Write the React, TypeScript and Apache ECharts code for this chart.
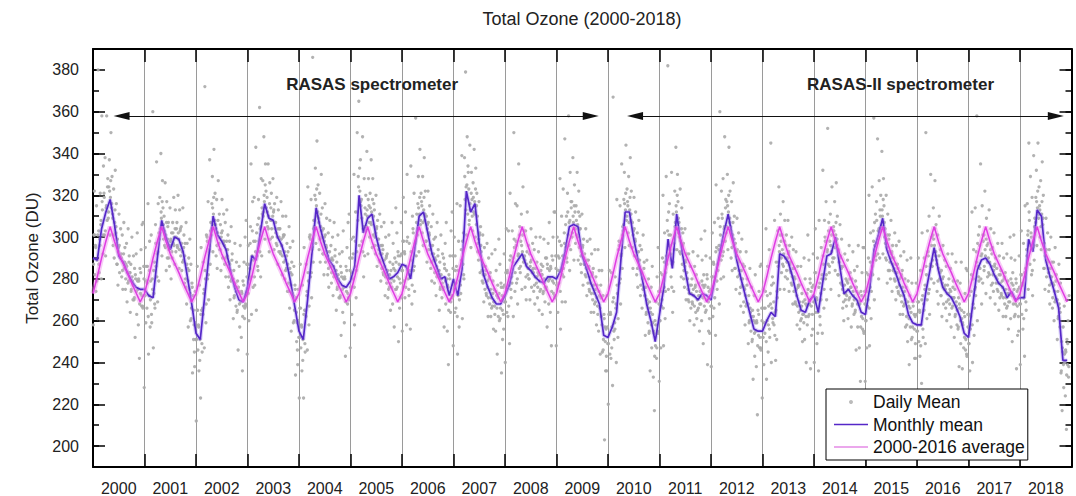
import React, { useEffect, useRef } from "react";
import * as echarts from "echarts";

const years = [2000, 2001, 2002, 2003, 2004, 2005, 2006, 2007, 2008, 2009, 2010, 2011, 2012, 2013, 2014, 2015, 2016, 2017, 2018];

// Monthly mean total ozone (DU), Jan..Dec for each year
const monthlyMean = [
  [290, 289, 304, 312, 318, 306, 291, 288, 283, 279, 276, 275],
  [275, 272, 271, 290, 308, 300, 294, 300, 299, 293, 281, 268],
  [254, 251, 271, 291, 310, 301, 298, 294, 284, 276, 270, 269],
  [276, 291, 289, 302, 316, 309, 308, 300, 296, 289, 279, 267],
  [255, 251, 270, 292, 314, 304, 296, 289, 286, 280, 277, 276],
  [279, 286, 320, 302, 309, 311, 300, 292, 286, 280, 281, 283],
  [287, 286, 280, 295, 310, 312, 302, 292, 286, 280, 281, 272],
  [280, 272, 285, 322, 312, 316, 297, 282, 276, 271, 268, 268],
  [272, 277, 286, 289, 292, 286, 284, 281, 279, 278, 281, 281],
  [280, 284, 293, 305, 306, 305, 291, 285, 278, 273, 268, 253],
  [252, 257, 264, 289, 312, 312, 299, 289, 280, 268, 260, 250],
  [263, 276, 299, 285, 311, 297, 284, 273, 272, 270, 273, 272],
  [270, 281, 292, 302, 311, 300, 289, 280, 272, 264, 256, 255],
  [255, 260, 264, 262, 292, 291, 288, 281, 272, 265, 264, 270],
  [272, 264, 278, 291, 292, 300, 286, 273, 275, 272, 270, 264],
  [263, 276, 294, 301, 309, 294, 288, 283, 277, 272, 263, 259],
  [258, 258, 273, 284, 295, 284, 276, 273, 271, 267, 262, 254],
  [252, 268, 284, 289, 290, 287, 282, 278, 276, 271, 274, 270],
  [271, 271, 299, 293, 313, 310, 289, 281, 274, 266, 241, 241],
];

// 2000-2016 average, Jan..Dec
const average20002016 = [273, 281, 290, 298, 305, 298, 292, 287.5, 283, 278, 273.5, 269];

// Daily values, spread of each month (8 readings per month, Jan..Dec)
const daily2000 = [294,274,310,287,258,301,322,282, 296,274,315,289,261,380,303,283, 299,321,306,280,358,313,292,334, 321,301,338,291,314,358,308,328, 309,324,337,301,319,350,314,329, 311,296,323,290,307,332,302,316, 287,299,277,295,311,283,291,304, 292,281,301,275,288,307,285,295, 275,287,297,269,283,304,279,291, 283,264,287,275,300,279,270,291, 270,285,252,280,292,263,302,275, 258,279,242,285,273,294,267,306];
const daily2001 = [267,307,286,228,272,295,259,279, 266,286,316,244,272,298,257,279, 301,259,280,360,247,273,288,266, 306,286,336,292,269,316,279,299, 319,304,340,309,291,327,314,299, 310,296,326,301,284,317,290,305, 307,294,286,314,298,280,302,290, 307,297,319,300,287,313,293,304, 307,295,320,299,285,313,303,291, 305,284,293,314,289,301,278,297, 280,307,268,297,285,257,290,275, 299,260,287,266,278,235,272,251];
const daily2002 = [258,238,274,251,212,265,286,246, 258,236,277,251,223,295,265,245, 266,288,273,247,372,280,259,301, 300,280,317,270,293,337,287,307, 301,316,329,293,311,342,306,321, 306,291,318,285,302,327,297,311, 294,306,284,302,318,290,298,311, 298,287,307,281,294,313,291,301, 276,288,298,270,284,305,280,292, 280,261,284,272,297,276,267,288, 264,279,246,274,286,257,296,269, 252,273,236,279,267,288,261,300];
const daily2003 = [268,308,287,244,273,296,260,280, 285,305,335,263,291,317,276,298, 319,277,298,343,265,291,306,284, 318,298,362,304,281,328,291,311, 327,312,348,317,299,335,322,307, 319,305,335,310,293,326,299,314, 321,308,300,328,312,294,316,304, 307,297,319,300,287,313,293,304, 304,292,317,296,282,310,300,288, 301,280,289,310,285,297,274,293, 278,305,266,295,283,255,288,273, 298,259,286,265,277,234,271,250];
const daily2004 = [259,239,275,252,223,266,287,247, 258,236,277,251,223,295,265,245, 265,287,272,246,324,279,258,300, 301,281,318,271,294,386,288,308, 305,320,333,297,315,346,310,325, 309,294,321,288,305,330,300,314, 292,304,282,300,316,288,296,309, 293,282,302,276,289,308,286,296, 278,290,300,272,286,307,282,294, 284,265,288,276,301,280,271,292, 271,286,253,281,293,264,303,276, 259,280,243,286,274,295,268,307];
const daily2005 = [271,311,290,247,276,299,263,283, 280,300,330,258,286,312,271,293, 350,308,329,365,296,322,337,315, 318,298,348,304,281,328,291,311, 320,305,341,310,292,328,315,300, 321,307,337,312,295,328,301,316, 313,300,292,320,304,286,308,296, 299,289,311,292,279,305,285,296, 294,282,307,286,272,300,290,278, 292,271,280,301,276,288,265,284, 280,307,268,297,285,257,290,275, 314,275,302,281,293,250,287,266];
const daily2006 = [291,271,307,284,255,298,319,279, 293,271,312,286,258,330,300,280, 275,297,282,256,334,289,268,310, 304,284,321,274,297,357,291,311, 301,316,329,293,311,342,306,321, 317,302,329,296,313,338,308,322, 298,310,288,306,322,294,302,315, 296,285,305,279,292,311,289,299, 278,290,300,272,286,307,282,294, 284,265,288,276,301,280,271,292, 275,290,257,285,297,268,307,280, 255,276,239,282,270,291,264,303];
const daily2007 = [272,312,291,248,277,300,264,284, 266,286,316,244,272,298,257,279, 315,273,294,339,261,287,302,280, 338,318,379,324,301,348,311,331, 323,308,344,313,295,331,318,303, 326,312,342,317,300,333,306,321, 310,297,289,317,301,283,305,293, 289,279,301,282,269,295,275,286, 284,272,297,276,262,290,280,268, 283,262,271,292,267,279,256,275, 267,294,255,284,272,244,277,262, 299,260,287,266,278,235,272,251];
const daily2008 = [276,256,292,269,240,283,304,264, 284,262,303,277,249,321,291,271, 281,303,288,262,350,295,274,316, 298,278,315,268,291,335,285,305, 283,298,311,275,293,324,288,303, 291,276,303,270,287,312,282,296, 280,292,270,288,304,276,284,297, 285,274,294,268,281,300,278,288, 271,283,293,265,279,300,275,287, 282,263,286,274,299,278,269,290, 275,290,257,285,297,268,307,280, 264,285,248,291,279,300,273,312];
const daily2009 = [272,312,291,248,277,300,264,284, 278,298,328,256,284,310,269,291, 323,281,302,347,269,295,310,288, 321,301,358,307,284,331,294,314, 317,302,338,307,289,325,312,297, 315,301,331,306,289,322,295,310, 304,291,283,311,295,277,299,287, 292,282,304,285,272,298,278,289, 286,274,299,278,264,292,282,270, 285,264,273,294,269,281,258,277, 267,294,255,284,272,244,277,262, 284,245,272,251,263,203,257,236];
const daily2010 = [256,236,272,249,220,263,284,244, 264,242,283,257,229,367,271,251, 259,281,266,240,318,273,252,294, 298,278,315,268,291,335,285,305, 303,318,331,295,313,344,308,323, 317,302,329,296,313,338,308,322, 295,307,285,303,319,291,299,312, 293,282,302,276,289,308,286,296, 272,284,294,266,280,301,276,288, 272,253,276,264,289,268,259,280, 254,269,236,264,276,247,286,259, 233,254,217,260,248,269,242,281];
const daily2011 = [255,295,274,231,260,283,247,267, 270,290,320,248,276,302,261,283, 329,287,308,382,275,301,316,294, 301,281,331,287,264,311,274,294, 322,307,343,312,294,330,317,302, 307,293,323,298,281,314,287,302, 297,284,276,304,288,270,292,280, 280,270,292,273,260,286,266,277, 280,268,293,272,258,286,276,264, 282,261,270,291,266,278,255,274, 272,299,260,289,277,249,282,267, 303,264,291,270,282,239,276,255];
const daily2012 = [274,254,290,267,238,281,302,262, 288,266,307,281,253,325,295,275, 287,309,294,268,360,301,280,322, 311,291,328,281,304,348,298,318, 302,317,330,294,312,343,307,322, 305,290,317,284,301,326,296,310, 285,297,275,293,309,281,289,302, 284,273,293,267,280,299,277,287, 264,276,286,258,272,293,268,280, 268,249,272,260,285,264,255,276, 250,265,232,260,272,243,282,255, 238,259,215,265,253,274,247,286];
const daily2013 = [247,287,266,223,252,275,239,259, 254,274,304,232,260,286,245,267, 294,252,273,345,240,266,281,259, 278,258,308,264,241,288,251,271, 303,288,324,293,275,311,298,283, 301,287,317,292,275,308,281,296, 301,288,280,308,292,274,296,284, 288,278,300,281,268,294,274,285, 280,268,293,272,258,286,276,264, 277,256,265,286,261,273,250,269, 263,290,251,280,268,240,273,258, 301,262,289,268,280,237,274,253];
const daily2014 = [276,256,292,269,240,283,304,264, 271,249,290,264,236,308,278,258, 273,295,280,254,332,287,266,308, 300,280,317,270,293,352,287,307, 283,298,311,275,293,324,288,303, 305,290,317,284,301,326,296,310, 282,294,272,290,306,278,286,299, 277,266,286,260,273,292,270,280, 267,279,289,261,275,296,271,283, 276,257,280,268,293,272,263,284, 264,279,246,274,286,257,296,269, 247,268,231,274,262,283,256,295];
const daily2015 = [255,295,274,231,260,283,247,267, 270,290,320,248,276,302,261,283, 324,282,303,357,270,296,311,289, 317,297,347,303,280,327,290,310, 320,305,341,310,292,328,315,300, 304,290,320,295,278,311,284,299, 301,288,280,308,292,274,296,284, 290,280,302,283,270,296,276,287, 285,273,298,277,263,291,281,269, 284,263,272,293,268,280,257,276, 262,289,250,279,267,239,272,257, 290,251,278,257,269,218,263,242];
const daily2016 = [262,242,278,255,226,269,290,250, 265,243,284,258,230,302,272,252, 268,290,275,249,350,282,261,303, 293,273,310,263,286,330,280,300, 286,301,314,278,296,327,291,306, 289,274,301,268,285,310,280,294, 272,284,262,280,296,268,276,289, 277,266,286,260,273,292,270,280, 263,275,285,257,271,292,267,279, 271,252,275,263,288,267,258,279, 256,271,238,266,278,249,288,261, 237,258,221,264,252,273,246,285];
const daily2017 = [244,284,263,220,249,272,236,256, 262,282,312,240,268,294,253,275, 314,272,293,358,260,286,301,279, 305,285,335,291,268,315,278,298, 301,286,322,291,273,309,296,281, 297,283,313,288,271,304,277,292, 295,282,274,302,286,268,290,278, 285,275,297,278,265,291,271,282, 284,272,297,276,262,290,280,268, 283,262,271,292,267,279,256,275, 273,300,261,290,278,250,283,268, 301,262,289,268,280,237,274,253];
const daily2018 = [275,255,291,268,239,282,303,263, 278,256,297,271,243,315,285,265, 294,316,301,275,345,308,287,329, 302,282,319,272,295,339,289,309, 304,319,332,296,314,345,309,324, 315,300,327,294,311,336,306,320, 285,297,275,293,309,281,289,302, 285,274,294,268,281,300,278,288, 266,278,288,260,274,295,270,282, 270,251,274,262,287,266,257,278, 235,250,217,245,257,228,267,240, 224,245,208,251,239,260,233,272];

// Daily values, dense core of each month (4 more readings per month, Jan..Dec)
const core2000 = [281,295,287,301, 295,279,301,287, 296,308,317,301, 319,303,315,324, 312,322,327,316, 309,301,313,305, 287,293,296,290, 290,284,292,288, 280,286,278,288, 283,274,281,277, 271,282,274,279, 280,268,283,272];
const core2001 = [266,280,272,286, 278,262,284,270, 263,275,284,268, 297,281,293,302, 302,312,317,306, 303,295,307,299, 290,296,299,293, 302,296,304,300, 296,302,294,304, 297,288,295,291, 276,287,279,284, 273,261,276,265];
const core2002 = [245,259,251,265, 257,241,263,249, 263,275,284,268, 298,282,294,303, 304,314,319,308, 304,296,308,300, 294,300,303,297, 296,290,298,294, 281,287,279,289, 280,271,278,274, 265,276,268,273, 274,262,277,266];
const core2003 = [267,281,273,287, 297,281,303,289, 281,293,302,286, 309,293,305,314, 310,320,325,314, 312,304,316,308, 304,310,313,307, 302,296,304,300, 293,299,291,301, 293,284,291,287, 274,285,277,282, 272,260,275,264];
const core2004 = [246,260,252,266, 257,241,263,249, 262,274,283,267, 299,283,295,304, 308,318,323,312, 307,299,311,303, 292,298,301,295, 291,285,293,289, 283,289,281,291, 284,275,282,278, 272,283,275,280, 281,269,284,273];
const core2005 = [270,284,276,290, 292,276,298,284, 312,324,333,317, 309,293,305,314, 303,313,318,307, 314,306,318,310, 296,302,305,299, 294,288,296,292, 283,289,281,291, 284,275,282,278, 276,287,279,284, 288,276,291,280];
const core2006 = [278,292,284,298, 292,276,298,284, 272,284,293,277, 302,286,298,307, 304,314,319,308, 315,307,319,311, 298,304,307,301, 294,288,296,292, 283,289,281,291, 284,275,282,278, 276,287,279,284, 277,265,280,269];
const core2007 = [271,285,277,291, 278,262,284,270, 277,289,298,282, 329,313,325,334, 306,316,321,310, 319,311,323,315, 293,299,302,296, 284,278,286,282, 273,279,271,281, 275,266,273,269, 263,274,266,271, 273,261,276,265];
const core2008 = [263,277,269,283, 283,267,289,275, 278,290,299,283, 296,280,292,301, 286,296,301,290, 289,281,293,285, 280,286,289,283, 283,277,285,281, 276,282,274,284, 282,273,280,276, 276,287,279,284, 286,274,289,278];
const core2009 = [271,285,277,291, 290,274,296,282, 285,297,306,290, 312,296,308,317, 300,310,315,304, 308,300,312,304, 287,293,296,290, 287,281,289,285, 275,281,273,283, 277,268,275,271, 263,274,266,271, 258,246,261,250];
const core2010 = [243,257,249,263, 263,247,269,255, 256,268,277,261, 296,280,292,301, 306,316,321,310, 315,307,319,311, 295,301,304,298, 291,285,293,289, 277,283,275,285, 272,263,270,266, 255,266,258,263, 255,243,258,247];
const core2011 = [254,268,260,274, 282,266,288,274, 291,303,312,296, 292,276,288,297, 305,315,320,309, 300,292,304,296, 280,286,289,283, 275,269,277,273, 269,275,267,277, 274,265,272,268, 268,279,271,276, 277,265,280,269];
const core2012 = [261,275,267,281, 287,271,293,279, 284,296,305,289, 309,293,305,314, 305,315,320,309, 303,295,307,299, 285,291,294,288, 282,276,284,280, 269,275,267,277, 268,259,266,262, 251,262,254,259, 260,248,263,252];
const core2013 = [246,260,252,266, 266,250,272,258, 256,268,277,261, 269,253,265,274, 286,296,301,290, 294,286,298,290, 284,290,293,287, 283,277,285,281, 269,275,267,277, 269,260,267,263, 259,270,262,267, 275,263,278,267];
const core2014 = [263,277,269,283, 270,254,276,262, 270,282,291,275, 298,282,294,303, 286,296,301,290, 303,295,307,299, 282,288,291,285, 275,269,277,273, 272,278,270,280, 276,267,274,270, 265,276,268,273, 269,257,272,261];
const core2015 = [254,268,260,274, 282,266,288,274, 286,298,307,291, 308,292,304,313, 303,313,318,307, 297,289,301,293, 284,290,293,287, 285,279,287,283, 274,280,272,282, 276,267,274,270, 258,269,261,266, 264,252,267,256];
const core2016 = [249,263,255,269, 264,248,270,256, 265,277,286,270, 291,275,287,296, 289,299,304,293, 287,279,291,283, 272,278,281,275, 275,269,277,273, 268,274,266,276, 271,262,269,265, 257,268,260,265, 259,247,262,251];
const core2017 = [243,257,249,263, 274,258,280,266, 276,288,297,281, 296,280,292,301, 284,294,299,288, 290,282,294,286, 278,284,287,281, 280,274,282,278, 273,279,271,281, 275,266,273,269, 269,280,272,277, 275,263,278,267];
const core2018 = [262,276,268,282, 277,261,283,269, 291,303,312,296, 300,284,296,305, 307,317,322,311, 313,305,317,309, 285,291,294,288, 283,277,285,281, 271,277,269,279, 270,261,268,264, 236,247,239,244, 246,234,249,238];

const dailyByYear = [daily2000, daily2001, daily2002, daily2003, daily2004, daily2005, daily2006, daily2007, daily2008, daily2009, daily2010, daily2011, daily2012, daily2013, daily2014, daily2015, daily2016, daily2017, daily2018];
const coreByYear = [core2000, core2001, core2002, core2003, core2004, core2005, core2006, core2007, core2008, core2009, core2010, core2011, core2012, core2013, core2014, core2015, core2016, core2017, core2018];

const yTickLabels = [200, 220, 240, 260, 280, 300, 320, 340, 360, 380];
const yMinorTicks = [190, 200, 210, 220, 230, 240, 250, 260, 270, 280, 290, 300, 310, 320, 330, 340, 350, 360, 370, 380, 390];

// Instrument periods (arrow tips in decimal years) and their labels
const instrumentNames = ["RASAS spectrometer", "RASAS-II spectrometer"];
const instrumentFrom = [2000.40, 2010.37];
const instrumentTo = [2009.82, 2018.85];
const instrumentLabelX = [2005.42, 2015.68];
const arrowLevel = 358;
const labelLevel = 373;

const FONT = "'Liberation Sans', Arial, Helvetica, sans-serif";
const BLUE = "#5527c8";
const MAGENTA = "#e03ce3";

export default function App() {
  const ref = useRef<HTMLDivElement>(null);

  useEffect(() => {
    document.body.style.margin = "0";
    if (!ref.current) return;
    const chart = echarts.init(ref.current, null, { renderer: "svg" });

    const dailyData: number[][] = [];
    years.forEach((y, yi) => {
      const main = dailyByYear[yi];
      const core = coreByYear[yi];
      main.forEach((v, k) => {
        const m = Math.floor(k / 8);
        const i = k % 8;
        dailyData.push([y + (m - 0.5 + (i + 0.5) / 8) / 12, v]);
      });
      core.forEach((v, k) => {
        const m = Math.floor(k / 4);
        const j = k % 4;
        dailyData.push([y + (m - 0.5 + (j + 0.5) / 4) / 12, v]);
      });
    });
    const monthlyData: number[][] = [];
    const avgData: number[][] = [];
    years.forEach((y, yi) => {
      monthlyMean[yi].forEach((v, m) => monthlyData.push([y + m / 12, v]));
      average20002016.forEach((v, m) => avgData.push([y + m / 12, v]));
    });

    const halfArrow = 0.155;
    const arrowLines = instrumentNames.map((_, i) => [
      { coord: [instrumentFrom[i] + halfArrow, arrowLevel] },
      { coord: [instrumentTo[i] - halfArrow, arrowLevel] },
    ]);
    const labelPoints = instrumentNames.map((n, i) => ({
      name: n,
      coord: [instrumentLabelX[i], labelLevel],
    }));

    const tickStyle = { color: "#000", width: 1.5 };
    const yBase = {
      type: "value",
      min: 190,
      max: 390,
      splitLine: { show: false },
    };

    const option: any = {
      animation: false,
      backgroundColor: "#ffffff",
      textStyle: { fontFamily: FONT },
      title: {
        text: "Total Ozone (2000-2018)",
        left: 577,
        top: 5,
        textAlign: "center",
        textStyle: { fontSize: 18, fontWeight: "normal", color: "#222", fontFamily: FONT },
      },
      grid: { left: 93, right: 4.5, top: 49, bottom: 29, containLabel: false, outerBoundsMode: "none" },
      legend: {
        data: [
          { name: "Daily Mean", icon: "circle", itemStyle: { color: "#b4b4b4" } },
          { name: "Monthly mean", icon: "path://M0,0h40v2h-40z", itemStyle: { color: BLUE } },
          { name: "2000-2016 average", icon: "path://M0,0h40v2h-40z", itemStyle: { color: "#e58ae6" } },
        ],
        orient: "vertical",
        left: 826,
        top: 389,
        padding: [4, 3, 4, 8],
        itemGap: 4.5,
        itemWidth: 34,
        itemHeight: 4,
        backgroundColor: "#ffffff",
        borderColor: "#000",
        borderWidth: 1,
        borderRadius: 0,
        selectedMode: false,
        textStyle: { fontSize: 17.5, color: "#111", fontFamily: FONT },
      },
      xAxis: [
        {
          type: "value",
          position: "bottom",
          min: 2000,
          max: 2019,
          interval: 1,
          axisLine: { show: true, onZero: false, lineStyle: { color: "#000", width: 2 } },
          axisTick: { show: true, inside: true, length: 13, lineStyle: tickStyle },
          splitLine: { show: true, lineStyle: { color: "#9a9a9a", width: 1 } },
          axisLabel: {
            customValues: years.map((y) => y + 0.5),
            formatter: (v: number) => String(Math.floor(v)),
            margin: 13,
            fontSize: 16,
            color: "#222",
            fontFamily: FONT,
          },
        },
        {
          type: "value",
          position: "top",
          min: 2000,
          max: 2019,
          interval: 1,
          axisLine: { show: true, onZero: false, lineStyle: { color: "#000", width: 2 } },
          axisTick: { show: true, inside: true, length: 13, lineStyle: tickStyle },
          splitLine: { show: false },
          axisLabel: { show: false },
        },
      ],
      yAxis: [
        {
          ...yBase,
          position: "left",
          name: "Total Ozone (DU)",
          nameLocation: "middle",
          nameGap: 52,
          nameTextStyle: { fontSize: 17, color: "#222", fontFamily: FONT },
          axisLine: { show: true, onZero: false, lineStyle: { color: "#000", width: 2 } },
          axisTick: { show: true, inside: true, length: 12, customValues: yTickLabels, lineStyle: tickStyle },
          axisLabel: { customValues: yTickLabels, margin: 14, fontSize: 16, color: "#222", fontFamily: FONT },
        },
        {
          ...yBase,
          position: "left",
          axisLine: { show: false },
          axisTick: { show: true, inside: true, length: 6, customValues: yMinorTicks, lineStyle: tickStyle },
          axisLabel: { show: false },
        },
        {
          ...yBase,
          position: "right",
          axisLine: { show: true, onZero: false, lineStyle: { color: "#000", width: 2 } },
          axisTick: { show: true, inside: true, length: 12, customValues: yTickLabels, lineStyle: tickStyle },
          axisLabel: { show: false },
        },
        {
          ...yBase,
          position: "right",
          axisLine: { show: false },
          axisTick: { show: true, inside: true, length: 6, customValues: yMinorTicks, lineStyle: tickStyle },
          axisLabel: { show: false },
        },
      ],
      series: [
        {
          name: "Daily Mean",
          type: "scatter",
          data: dailyData,
          symbol: "circle",
          symbolSize: 3.3,
          itemStyle: { color: "#aaaaaa", opacity: 0.9 },
          clip: true,
          silent: true,
          z: 2,
          markLine: {
            silent: true,
            symbol: ["triangle", "triangle"],
            symbolSize: [8, 16],
            label: { show: false },
            lineStyle: { color: "#111", width: 1, type: "solid", opacity: 1 },
            itemStyle: { color: "#000" },
            data: arrowLines,
          },
          markPoint: {
            silent: true,
            symbol: "rect",
            symbolSize: 1,
            itemStyle: { color: "rgba(0,0,0,0)" },
            label: {
              show: true,
              position: "inside",
              formatter: "{b}",
              fontSize: 17,
              fontWeight: "bold",
              color: "#222",
              fontFamily: FONT,
            },
            data: labelPoints,
          },
        },
        {
          name: "Monthly mean halo",
          type: "line",
          data: monthlyData,
          showSymbol: false,
          symbol: "none",
          silent: true,
          lineStyle: { color: "rgba(150,120,235,0.35)", width: 4 },
          z: 3,
        },
        {
          name: "Monthly mean",
          type: "line",
          data: monthlyData,
          showSymbol: false,
          symbol: "none",
          lineStyle: { color: BLUE, width: 1.7 },
          itemStyle: { color: BLUE },
          z: 3,
        },
        {
          name: "2000-2016 average halo",
          type: "line",
          data: avgData,
          showSymbol: false,
          symbol: "none",
          silent: true,
          lineStyle: { color: "rgba(238,140,238,0.45)", width: 5 },
          z: 4,
        },
        {
          name: "2000-2016 average",
          type: "line",
          data: avgData,
          showSymbol: false,
          symbol: "none",
          lineStyle: { color: MAGENTA, width: 1.5 },
          itemStyle: { color: MAGENTA },
          z: 4,
        },
      ],
    };

    chart.setOption(option);
    return () => chart.dispose();
  }, []);

  return <div ref={ref} style={{ width: 1076, height: 496 }} />;
}
